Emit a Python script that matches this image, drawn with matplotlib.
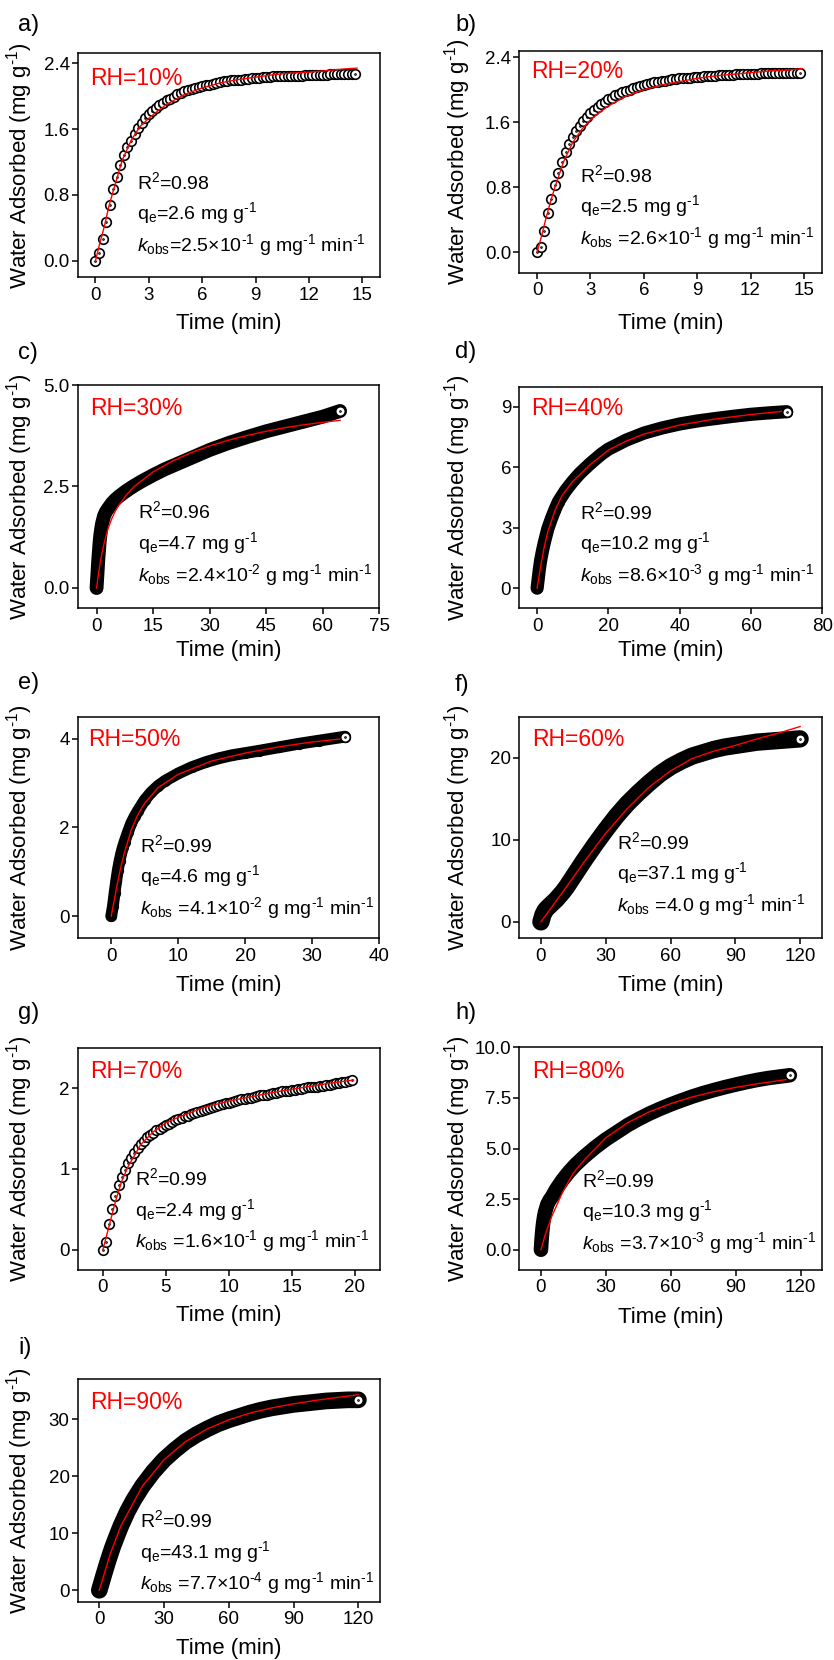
import matplotlib
matplotlib.use("Agg")
import matplotlib.pyplot as plt
from matplotlib.path import Path
from matplotlib.transforms import Affine2D

plt.rcParams["font.family"] = ["Liberation Sans", "DejaVu Sans"]
plt.rcParams["mathtext.fontset"] = "custom"
plt.rcParams["mathtext.rm"] = "Liberation Sans"
plt.rcParams["mathtext.it"] = "Liberation Sans:italic"
plt.rcParams["mathtext.bf"] = "Liberation Sans:bold"

# ---------------- data ----------------
# a) RH=10%
t_a = [0.0, 0.2, 0.4, 0.6, 0.8, 1.0, 1.2, 1.4, 1.6, 1.8, 2.0, 2.2, 2.4, 2.6, 2.8,
       3.0, 3.2, 3.4, 3.6, 3.8, 4.0, 4.2, 4.4, 4.6, 4.8, 5.0, 5.2, 5.4, 5.6, 5.8,
       6.0, 6.2, 6.4, 6.6, 6.8, 7.0, 7.2, 7.4, 7.6, 7.8, 8.0, 8.2, 8.4, 8.6, 8.8,
       9.0, 9.2, 9.4, 9.6, 9.8, 10.0, 10.2, 10.4, 10.6, 10.8, 11.0, 11.2, 11.4,
       11.6, 11.8, 12.0, 12.2, 12.4, 12.6, 12.8, 13.0, 13.2, 13.4, 13.6, 13.8,
       14.0, 14.2, 14.4, 14.6]
q_a = [0.00, 0.09, 0.26, 0.47, 0.68, 0.87, 1.02, 1.16, 1.28, 1.38, 1.46, 1.54,
       1.61, 1.67, 1.73, 1.78, 1.82, 1.86, 1.89, 1.92, 1.95, 1.97, 1.99, 2.02,
       2.04, 2.06, 2.07, 2.09, 2.10, 2.11, 2.12, 2.13, 2.14, 2.15, 2.16, 2.17,
       2.18, 2.18, 2.19, 2.19, 2.20, 2.20, 2.21, 2.21, 2.22, 2.22, 2.22, 2.23,
       2.23, 2.23, 2.24, 2.24, 2.24, 2.24, 2.25, 2.25, 2.25, 2.25, 2.25, 2.26,
       2.26, 2.26, 2.26, 2.26, 2.26, 2.26, 2.27, 2.27, 2.27, 2.27, 2.27, 2.27,
       2.27, 2.27]
ft_a = [0, 0.25, 0.5, 0.75, 1, 1.5, 2, 2.5, 3, 3.5, 4, 5, 6, 7, 8, 9, 10, 11, 12,
        13, 14, 14.7]
fq_a = [0, 0.22, 0.42, 0.66, 0.85, 1.22, 1.46, 1.63, 1.73, 1.82, 1.90, 2.02,
        2.10, 2.16, 2.20, 2.23, 2.26, 2.28, 2.29, 2.31, 2.33, 2.34]

# b) RH=20%
t_b = [0.0, 0.2, 0.4, 0.6, 0.8, 1.0, 1.2, 1.4, 1.6, 1.8, 2.0, 2.2, 2.4, 2.6, 2.8,
       3.0, 3.2, 3.4, 3.6, 3.8, 4.0, 4.2, 4.4, 4.6, 4.8, 5.0, 5.2, 5.4, 5.6, 5.8,
       6.0, 6.2, 6.4, 6.6, 6.8, 7.0, 7.2, 7.4, 7.6, 7.8, 8.0, 8.2, 8.4, 8.6, 8.8,
       9.0, 9.2, 9.4, 9.6, 9.8, 10.0, 10.2, 10.4, 10.6, 10.8, 11.0, 11.2, 11.4,
       11.6, 11.8, 12.0, 12.2, 12.4, 12.6, 12.8, 13.0, 13.2, 13.4, 13.6, 13.8,
       14.0, 14.2, 14.4, 14.6, 14.8]
q_b = [0.00, 0.07, 0.26, 0.48, 0.66, 0.83, 0.98, 1.11, 1.23, 1.33, 1.42, 1.49,
       1.56, 1.62, 1.67, 1.71, 1.75, 1.79, 1.82, 1.85, 1.88, 1.90, 1.93, 1.95,
       1.97, 1.99, 2.00, 2.02, 2.03, 2.05, 2.06, 2.07, 2.08, 2.09, 2.10, 2.11,
       2.11, 2.12, 2.13, 2.13, 2.14, 2.14, 2.15, 2.15, 2.16, 2.16, 2.16, 2.17,
       2.17, 2.17, 2.17, 2.18, 2.18, 2.18, 2.18, 2.18, 2.19, 2.19, 2.19, 2.19,
       2.19, 2.19, 2.19, 2.20, 2.20, 2.20, 2.20, 2.20, 2.20, 2.20, 2.20, 2.20,
       2.20, 2.20, 2.20]
ft_b = [0, 0.25, 0.5, 0.75, 1, 1.5, 2, 2.5, 3, 3.5, 4, 5, 6, 7, 8, 9, 10, 11, 12,
        13, 14, 14.9]
fq_b = [0, 0.20, 0.42, 0.62, 0.80, 1.12, 1.35, 1.51, 1.63, 1.72, 1.80, 1.92,
        2.00, 2.06, 2.10, 2.14, 2.17, 2.19, 2.21, 2.23, 2.24, 2.26]

# c) RH=30%
t_c = [0, 0.17, 0.33, 0.5, 0.67, 0.83, 1.0, 1.25, 1.5, 2, 2.5, 3, 4, 5, 6, 8, 10,
       12, 15, 18, 20, 25, 30, 35, 40, 45, 50, 55, 60, 64.6]
q_c = [0, 0.25, 0.50, 0.75, 0.95, 1.15, 1.30, 1.47, 1.60, 1.78, 1.88, 1.95, 2.08,
       2.18, 2.26, 2.40, 2.52, 2.63, 2.78, 2.92, 3.00, 3.20, 3.40, 3.57, 3.72,
       3.86, 3.98, 4.10, 4.22, 4.36]
ft_c = [0, 0.6, 1.2, 2, 3, 4, 5, 6, 8, 10, 15, 20, 25, 30, 35, 40, 45, 50, 55,
        60, 64.6]
fq_c = [0, 0.40, 0.75, 1.10, 1.45, 1.70, 1.90, 2.05, 2.30, 2.50, 2.86, 3.12,
        3.33, 3.50, 3.64, 3.76, 3.86, 3.95, 4.02, 4.08, 4.13]

# d) RH=40%
t_d = [0, 0.3, 0.6, 1, 1.5, 2, 3, 4, 5, 6, 8, 10, 12, 15, 18, 20, 25, 30, 35, 40,
       45, 50, 55, 60, 65, 70]
q_d = [0, 0.45, 0.90, 1.40, 1.85, 2.25, 2.95, 3.45, 3.90, 4.30, 4.85, 5.30, 5.70,
       6.20, 6.65, 6.90, 7.35, 7.70, 7.95, 8.15, 8.30, 8.42, 8.53, 8.63, 8.70,
       8.76]
ft_d = [0, 1, 2, 3, 5, 7, 10, 15, 20, 25, 30, 40, 50, 60, 70]
fq_d = [0, 1.10, 2.05, 2.80, 3.85, 4.60, 5.30, 6.15, 6.85, 7.30, 7.65, 8.10,
        8.40, 8.62, 8.80]

# e) RH=50%
t_e = [0, 0.25, 0.5, 0.75, 1.0, 1.25, 1.5, 1.75, 2, 2.5, 3, 3.5, 4, 5, 6, 7, 8,
       10, 12, 14, 16, 18, 20, 22, 25, 28, 31, 34.9]
q_e = [0, 0.22, 0.52, 0.80, 1.05, 1.25, 1.42, 1.56, 1.68, 1.90, 2.10, 2.25, 2.38,
       2.62, 2.80, 2.94, 3.05, 3.22, 3.36, 3.47, 3.56, 3.63, 3.68, 3.73, 3.81,
       3.89, 3.96, 4.05]
ft_e = [0, 0.5, 1, 1.5, 2, 3, 4, 5, 7, 10, 15, 20, 25, 30, 35]
fq_e = [0, 0.40, 0.80, 1.15, 1.45, 1.95, 2.30, 2.55, 2.90, 3.20, 3.50, 3.68,
        3.82, 3.93, 4.01]

# f) RH=60%
t_f = [0, 1, 2, 3, 4, 5, 7, 10, 12, 15, 18, 20, 25, 30, 35, 40, 45, 50, 55, 60,
       65, 70, 75, 80, 85, 90, 95, 100, 105, 110, 115, 120]
q_f = [0, 0.9, 1.4, 1.7, 1.95, 2.2, 2.7, 3.6, 4.3, 5.5, 6.7, 7.5, 9.4, 11.2,
       12.9, 14.4, 15.7, 16.9, 18.0, 18.9, 19.6, 20.2, 20.6, 21.0, 21.3, 21.5,
       21.7, 21.9, 22.0, 22.1, 22.2, 22.3]
ft_f = [0, 5, 10, 20, 30, 40, 50, 60, 70, 80, 90, 100, 110, 120]
fq_f = [0, 1.8, 3.6, 7.3, 10.8, 13.8, 16.4, 18.4, 19.9, 20.8, 21.5, 22.3, 23.0,
        23.8]

# g) RH=70%
t_g = [0.0, 0.25, 0.5, 0.75, 1.0, 1.25, 1.5, 1.75, 2.0, 2.25, 2.5, 2.75, 3.0,
       3.25, 3.5, 3.75, 4.0, 4.25, 4.5, 4.75, 5.0, 5.25, 5.5, 5.75, 6.0, 6.25,
       6.5, 6.75, 7.0, 7.25, 7.5, 7.75, 8.0, 8.25, 8.5, 8.75, 9.0, 9.25, 9.5,
       9.75, 10.0, 10.25, 10.5, 10.75, 11.0, 11.25, 11.5, 11.75, 12.0, 12.25,
       12.5, 12.75, 13.0, 13.25, 13.5, 13.75, 14.0, 14.25, 14.5, 14.75, 15.0,
       15.25, 15.5, 15.75, 16.0, 16.25, 16.5, 16.75, 17.0, 17.25, 17.5, 17.75,
       18.0, 18.25, 18.5, 18.75, 19.0, 19.25, 19.5, 19.75]
q_g = [0.00, 0.10, 0.32, 0.50, 0.67, 0.80, 0.90, 0.99, 1.07, 1.14, 1.20, 1.26,
       1.31, 1.35, 1.39, 1.42, 1.45, 1.48, 1.50, 1.52, 1.54, 1.56, 1.58, 1.60,
       1.62, 1.63, 1.65, 1.66, 1.68, 1.69, 1.71, 1.72, 1.73, 1.74, 1.76, 1.77,
       1.78, 1.79, 1.80, 1.81, 1.82, 1.83, 1.84, 1.85, 1.86, 1.87, 1.88, 1.88,
       1.89, 1.90, 1.91, 1.91, 1.92, 1.93, 1.94, 1.94, 1.95, 1.96, 1.96, 1.97,
       1.98, 1.98, 1.99, 1.99, 2.00, 2.01, 2.01, 2.02, 2.02, 2.03, 2.03, 2.04,
       2.04, 2.05, 2.06, 2.06, 2.07, 2.08, 2.09, 2.10]
ft_g = [0, 0.5, 1, 1.5, 2, 3, 4, 5, 6, 8, 10, 12, 14, 16, 18, 19.9]
fq_g = [0, 0.30, 0.60, 0.85, 1.03, 1.30, 1.46, 1.57, 1.64, 1.76, 1.84, 1.90,
        1.96, 2.01, 2.06, 2.10]

# h) RH=80%
t_h = [0, 0.3, 0.6, 1, 1.5, 2, 3, 4, 5, 7, 10, 13, 16, 20, 25, 30, 35, 40, 45,
       50, 55, 60, 65, 70, 75, 80, 85, 90, 95, 100, 105, 110, 115]
q_h = [0, 0.50, 0.90, 1.30, 1.65, 1.90, 2.25, 2.45, 2.60, 2.98, 3.45, 3.85, 4.20,
       4.60, 5.05, 5.45, 5.80, 6.15, 6.45, 6.72, 6.96, 7.18, 7.38, 7.57, 7.74,
       7.89, 8.03, 8.16, 8.28, 8.39, 8.48, 8.55, 8.62]
ft_h = [0, 2, 5, 10, 15, 20, 30, 40, 50, 60, 70, 80, 90, 100, 115]
fq_h = [0, 0.75, 1.65, 2.84, 3.80, 4.43, 5.53, 6.27, 6.81, 7.22, 7.55, 7.81,
        8.02, 8.20, 8.43]

# i) RH=90%
t_i = [0, 2, 4, 6, 8, 10, 13, 16, 20, 25, 30, 35, 40, 45, 50, 55, 60, 65, 70,
       75, 80, 85, 90, 95, 100, 105, 110, 115, 120]
q_i = [0, 2.6, 5.1, 7.4, 9.4, 11.3, 13.8, 15.9, 18.3, 20.8, 22.9, 24.6, 26.1,
       27.3, 28.3, 29.2, 29.9, 30.5, 31.1, 31.6, 32.0, 32.3, 32.6, 32.8, 33.0,
       33.2, 33.3, 33.4, 33.4]
ft_i = [0, 5, 10, 20, 30, 40, 50, 60, 70, 80, 90, 100, 110, 120]
fq_i = [0, 6.3, 11.3, 18.3, 22.9, 26.1, 28.3, 29.9, 31.1, 32.0, 32.7, 33.3,
        33.8, 34.3]

letters = ["a)", "b)", "c)", "d)", "e)", "f)", "g)", "h)", "i)"]
rh_labels = ["RH=10%", "RH=20%", "RH=30%", "RH=40%", "RH=50%", "RH=60%",
             "RH=70%", "RH=80%", "RH=90%"]
r2_vals = ["0.98", "0.98", "0.96", "0.99", "0.99", "0.99", "0.99", "0.99", "0.99"]
qe_vals = ["2.6", "2.5", "4.7", "10.2", "4.6", "37.1", "2.4", "10.3", "43.1"]
kobs_vals = [r"2.5$\times$10$^{‐1}$", r"2.6$\times$10$^{‐1}$",
             r"2.4$\times$10$^{‐2}$", r"8.6$\times$10$^{‐3}$",
             r"4.1$\times$10$^{‐2}$", "4.0", r"1.6$\times$10$^{‐1}$",
             r"3.7$\times$10$^{‐3}$", r"7.7$\times$10$^{‐4}$"]

series = [(t_a, q_a, ft_a, fq_a), (t_b, q_b, ft_b, fq_b), (t_c, q_c, ft_c, fq_c),
          (t_d, q_d, ft_d, fq_d), (t_e, q_e, ft_e, fq_e), (t_f, q_f, ft_f, fq_f),
          (t_g, q_g, ft_g, fq_g), (t_h, q_h, ft_h, fq_h), (t_i, q_i, ft_i, fq_i)]

xlims = [(-1, 16), (-1, 16), (-5, 75), (-5, 80), (-5, 40), (-10, 130),
         (-2, 22), (-10, 130), (-10, 130)]
ylims = [(-0.2, 2.52), (-0.25, 2.48), (-0.5, 5.0), (-1, 10), (-0.5, 4.5),
         (-2, 25), (-0.25, 2.5), (-1, 10), (-2, 37)]
xticks = [range(0, 16, 3), range(0, 16, 3), range(0, 76, 15), range(0, 81, 20),
          range(0, 41, 10), range(0, 121, 30), range(0, 21, 5), range(0, 121, 30),
          range(0, 121, 30)]
yticks = [[0, 0.8, 1.6, 2.4], [0, 0.8, 1.6, 2.4], [0, 2.5, 5.0], [0, 3, 6, 9],
          [0, 2, 4], [0, 10, 20], [0, 1, 2], [0, 2.5, 5.0, 7.5, 10.0],
          [0, 10, 20, 30]]
yfmt = ["%.1f", "%.1f", "%.1f", "%d", "%d", "%d", "%d", "%.1f", "%d"]

# ---------------- layout (pixels in the 834 x 1660 canvas) ----------------
W, H = 834, 1660
# left, top, right, bottom of each axes box
boxes = [(77.7, 53.3, 380.0, 277.3), (519.3, 50.7, 821.7, 272.7),
         (77.7, 385.0, 379.3, 608.3), (519.3, 386.7, 822.3, 608.3),
         (77.7, 716.7, 379.3, 938.3), (519.3, 716.7, 821.7, 938.3),
         (77.7, 1047.7, 380.0, 1270.0), (519.3, 1047.3, 822.3, 1270.0),
         (77.7, 1379.3, 380.0, 1601.7)]
letter_pos = [(18, 25), (455, 25), (18, 353), (455, 352), (18, 683), (455, 685),
              (18, 1013), (455, 1013), (18, 1348)]
rh_pos = [(0.041, 0.888), (0.038, 0.905), (0.041, 0.896), (0.038, 0.900),
          (0.035, 0.895), (0.041, 0.895), (0.041, 0.892), (0.041, 0.890),
          (0.041, 0.895)]
ann_pos = [(0.195, 0.427), (0.200, 0.440), (0.200, 0.433), (0.200, 0.436),
           (0.206, 0.421), (0.322, 0.436), (0.190, 0.412), (0.206, 0.405),
           (0.207, 0.367)]
ann_step = 0.142
band_lw = [0, 0, 10.0, 9.5, 8.5, 12.5, 0, 10.5, 12.0]
xlab_y = [-0.161, -0.183, -0.142, -0.143, -0.165, -0.165, -0.157, -0.165, -0.165]

ring = Path.unit_circle()
dot = Path.unit_circle().transformed(Affine2D().scale(0.1))
dot_marker = Path.make_compound_path(ring, dot)
MS, MEW = 6.9, 1.2

fig = plt.figure(figsize=(W / 100, H / 100), dpi=100)

for k in range(9):
    t, q, ft, fq = series[k]
    l, tp, r, b = boxes[k]
    ax = fig.add_axes([l / W, 1 - b / H, (r - l) / W, (b - tp) / H])

    if band_lw[k]:
        ax.plot(t, q, color="black", lw=band_lw[k], solid_capstyle="round",
                solid_joinstyle="round", zorder=2)
        ax.plot(t, q, ls="none", marker="o", ms=MS, mfc="none", mec="black",
                mew=MEW, zorder=2)
        ax.plot(t[-1:], q[-1:], ls="none", marker=dot_marker, ms=MS,
                mfc="white", mec="black", mew=MEW, zorder=4)
    else:
        ax.plot(t, q, ls="none", marker=dot_marker, ms=MS, mfc="white",
                mec="black", mew=MEW, zorder=2)
    ax.plot(ft, fq, color="red", lw=1.0, zorder=3)

    ax.set_xlim(*xlims[k])
    ax.set_ylim(*ylims[k])
    ax.set_xticks(list(xticks[k]))
    ax.set_yticks(yticks[k])
    ax.set_yticklabels([yfmt[k] % v for v in yticks[k]])
    ax.tick_params(direction="out", length=4.3, width=1.1, labelsize=13.5,
                   top=False, right=False)
    ax.tick_params(axis="y", pad=1.5)
    ax.tick_params(axis="x", pad=2.5)
    for s in ax.spines.values():
        s.set_linewidth(1.1)

    ax.set_xlabel("Time (min)", fontsize=16)
    ax.set_ylabel(r"Water Adsorbed (mg g$^{‐1}$)", fontsize=16)
    ax.xaxis.set_label_coords(0.5, xlab_y[k])
    ax.yaxis.set_label_coords(-0.141 if k % 2 == 0 else -0.152, 0.5)

    ax.text(rh_pos[k][0], rh_pos[k][1], rh_labels[k], color="red", fontsize=16.5,
            transform=ax.transAxes, ha="left", va="center")
    ax0, ay0 = ann_pos[k]
    eq = "=" if k == 0 else " ="
    lines = [r"R$^{2}$=" + r2_vals[k],
             r"q$_{\rm e}$=" + qe_vals[k] + r" mg g$^{‐1}$",
             r"$k_{\rm obs}$" + eq + kobs_vals[k] + r" g mg$^{‐1}$ min$^{‐1}$"]
    for j, s in enumerate(lines):
        ax.text(ax0, ay0 - j * ann_step, s, fontsize=14, transform=ax.transAxes,
                ha="left", va="center")

    fig.text(letter_pos[k][0] / W, 1 - letter_pos[k][1] / H, letters[k],
             fontsize=17, ha="left", va="center")

fig.savefig("out.png", dpi=100)
